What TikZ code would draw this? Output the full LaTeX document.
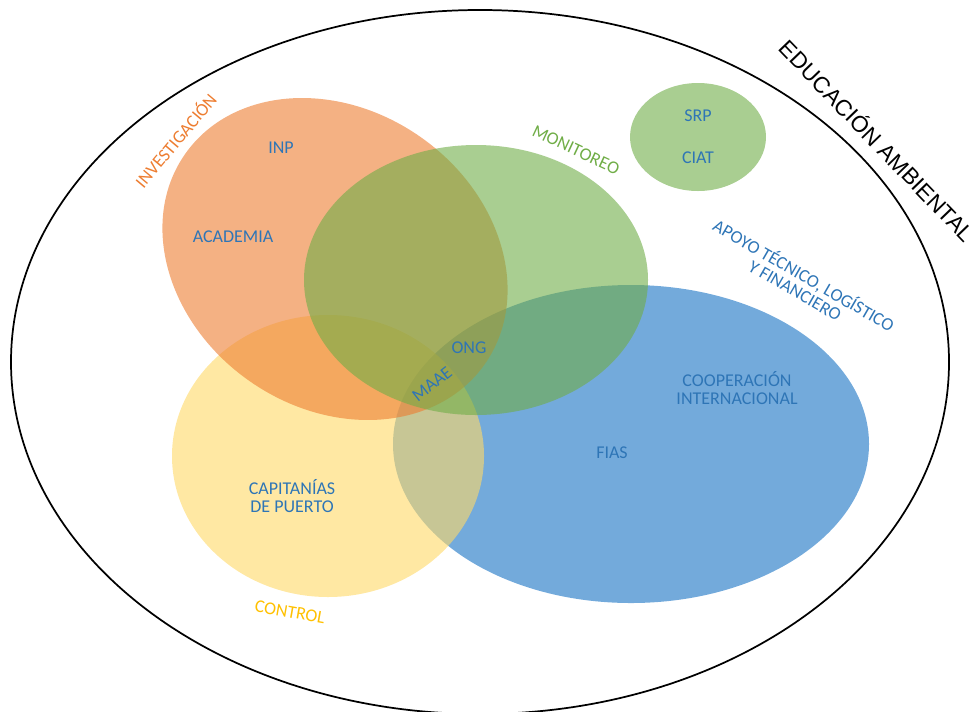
\documentclass[tikz,border=0pt]{standalone}
\usepackage{fontspec}
\setmainfont{Carlito}
\newfontfamily\arialfont{Liberation Sans}
\definecolor{azul}{HTML}{2E75B6}
\definecolor{naranja}{HTML}{ED7D31}
\definecolor{verde}{HTML}{70AD47}
\definecolor{amarillo}{HTML}{FFD966}
\definecolor{oro}{HTML}{FFC000}
\definecolor{celeste}{HTML}{5B9BD5}
\begin{document}
\begin{tikzpicture}[x=0.75pt,y=0.75pt,
    txt/.style={text=azul,font=\fontsize{13.5}{16}\selectfont,align=center},
    grupo/.style={font=\fontsize{13.5}{16}\selectfont,align=center}]
            \useasboundingbox (0,0) rectangle (980,-711);
            \draw[line width=1.3pt] (480,-362) ellipse [x radius=469, y radius=352];
            \fill[celeste,opacity=0.85] (631,-444) ellipse [x radius=238, y radius=159];
            \fill[amarillo,opacity=0.6] (328,-456) ellipse [x radius=156, y radius=141];
            \fill[naranja,opacity=0.6,rotate around={-35:(335,-259)}] (335,-259) ellipse [x radius=183, y radius=149];
            \fill[verde,opacity=0.6] (476,-280) ellipse [x radius=172, y radius=135];
            \fill[verde,opacity=0.6] (698,-137) ellipse [x radius=68, y radius=54];
            \node[txt] (inp) at (281,-148) {INP};
            \node[txt] (academia) at (233,-237) {ACADEMIA};
            \node[txt] (srp) at (698,-116) {SRP};
            \node[txt] (ciat) at (698,-158) {CIAT};
            \node[txt] (ong) at (469,-348) {ONG};
            \node[txt,rotate=38] (maae) at (432,-384) {MAAE};
            \node[txt] (coop) at (737,-388) {COOPERACIÓN\\[-3pt]INTERNACIONAL};
            \node[txt] (fias) at (612,-453) {FIAS};
            \node[txt] (capitanias) at (292,-496) {CAPITANÍAS\\[-3pt]DE PUERTO};
            \node[grupo,text=naranja,rotate=50] (investigacion) at (175,-140) {INVESTIGACIÓN};
            \node[grupo,text=verde,rotate=-25] (monitoreo) at (576,-150) {MONITOREO};
            \node[grupo,text=azul,rotate=-30] (apoyo) at (800,-282) {APOYO TÉCNICO, LOGÍSTICO\\[-3pt]Y FINANCIERO};
            \node[grupo,text=oro,rotate=-10] (control) at (290,-612) {CONTROL};
            \node[font=\arialfont\fontsize{17}{20}\selectfont,rotate=-46] (educacion) at (878,-140) {EDUCACIÓN AMBIENTAL};
        \end{tikzpicture}
\end{document}
